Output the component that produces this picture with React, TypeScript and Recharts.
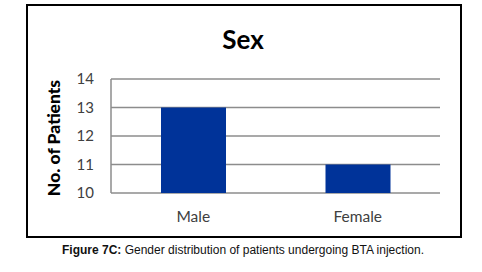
import { BarChart, Bar, XAxis, YAxis, CartesianGrid } from 'recharts';

const categories = ['Male', 'Female'];
const patients = [13, 11];
const yTicks = [10, 11, 12, 13, 14];

const data = categories.map((sex, i) => ({ sex, patients: patients[i] }));

const axisFont = 'Lato, "Open Sans", sans-serif';

export default function App() {
  return (
    <div style={{ position: 'absolute', left: 0, top: 0, width: 482, height: 272, background: '#fff' }}>
      <div
        style={{
          position: 'absolute',
          left: 26,
          top: 4,
          width: 436,
          height: 234,
          border: '2px solid #000',
          boxSizing: 'border-box',
        }}
      />
      <div
        style={{
          position: 'absolute',
          left: 0,
          width: 486,
          top: 24,
          textAlign: 'center',
          fontFamily: axisFont,
          fontWeight: 700,
          fontSize: 26,
          lineHeight: '30px',
          color: '#000',
        }}
      >
        Sex
      </div>
      <div style={{ position: 'absolute', left: 0, top: 0 }}>
        <BarChart width={482} height={240} data={data} margin={{ top: 79, right: 42, left: 51, bottom: 17 }}>
          <CartesianGrid vertical={false} stroke="#8c8c8c" strokeWidth={1.5} />
          <XAxis
            dataKey="sex"
            axisLine={false}
            tickLine={false}
            tickSize={0}
            tickMargin={18}
            height={30}
            tick={{ fontSize: 15.5, fill: '#404040', fontFamily: axisFont }}
          />
          <YAxis
            domain={[10, 14]}
            ticks={yTicks}
            width={60}
            axisLine={{ stroke: '#8c8c8c', strokeWidth: 1.5 }}
            tickLine={false}
            tickSize={0}
            tickMargin={17}
            tick={{ fontSize: 15, fill: '#404040', fontFamily: axisFont }}
            label={{
              content: ({ viewBox }: any) => (
                <text
                  x={viewBox.x + 2}
                  y={viewBox.y + viewBox.height / 2 + 2}
                  transform={`rotate(-90 ${viewBox.x + 2} ${viewBox.y + viewBox.height / 2 + 2})`}
                  textAnchor="middle"
                  dominantBaseline="central"
                  fontFamily={axisFont}
                  fontWeight={900}
                  fontSize={17.5}
                  fill="#000"
                >
                  No. of Patients
                </text>
              ),
            }}
          />
          <Bar dataKey="patients" fill="#003399" barSize={65} isAnimationActive={false} />
        </BarChart>
      </div>
      <div
        style={{
          position: 'absolute',
          left: 0,
          width: 486,
          top: 243,
          textAlign: 'center',
          fontFamily: '"Liberation Sans", Arial, sans-serif',
          fontSize: 12,
          lineHeight: '14px',
          color: '#111',
        }}
      >
        <b>Figure 7C:</b> Gender distribution of patients undergoing BTA injection.
      </div>
    </div>
  );
}
